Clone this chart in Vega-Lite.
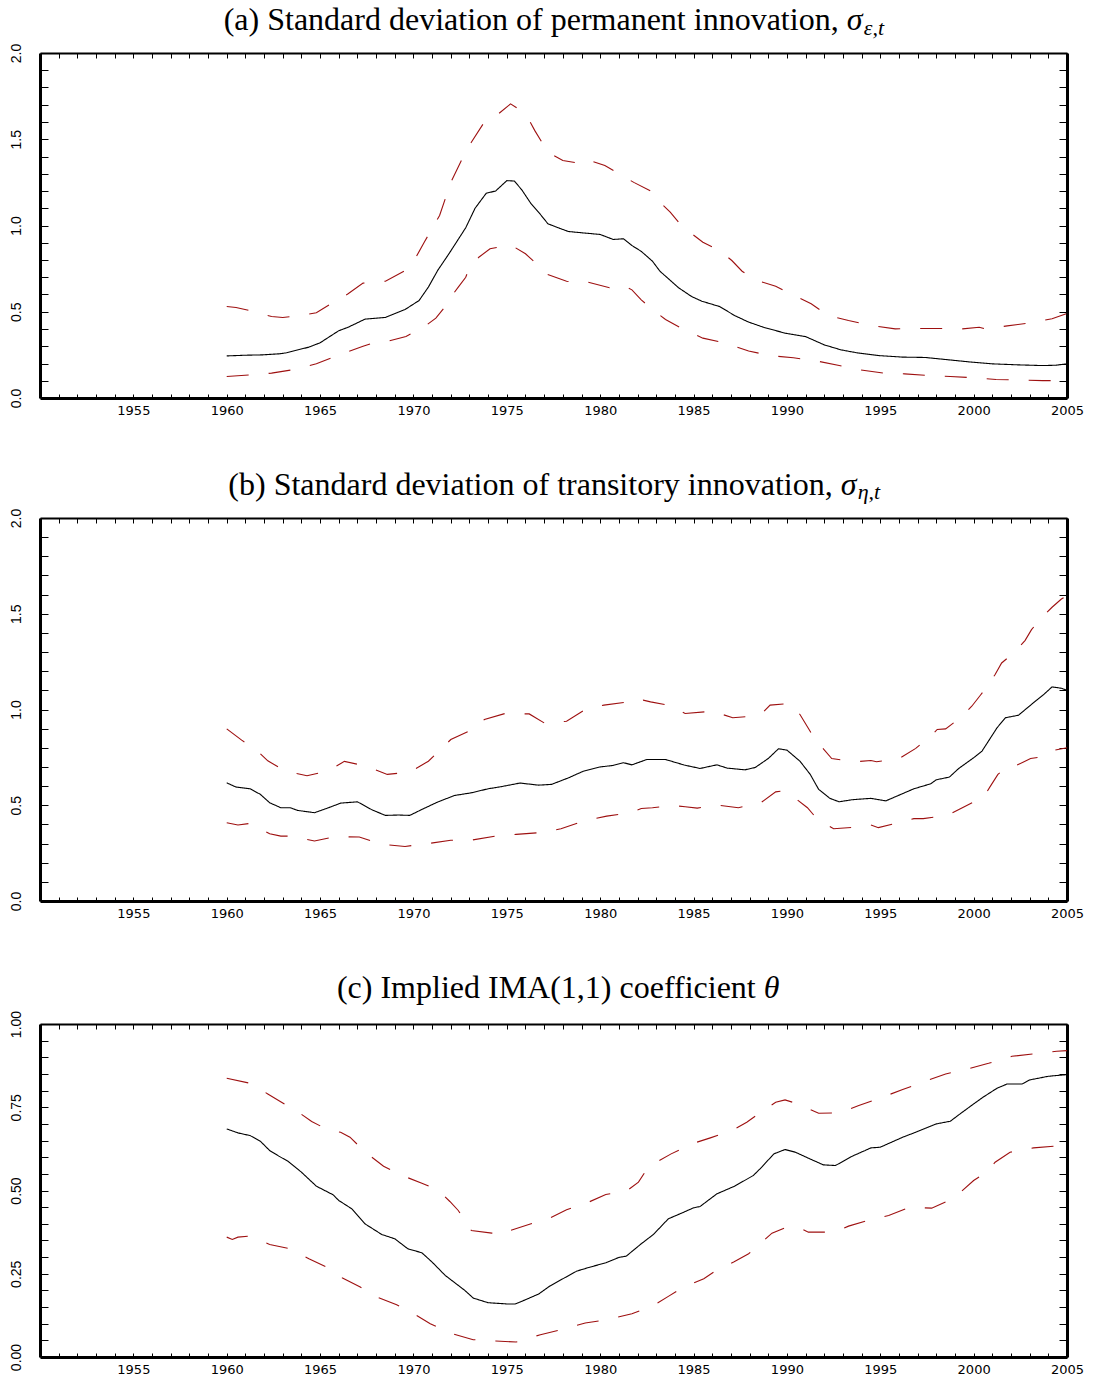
{
  "$schema": "https://vega.github.io/schema/vega-lite/v6.json",
  "background": "white",
  "padding": {"left": 8, "top": 4, "right": 0, "bottom": 0},
  "spacing": 52,
  "config": {
    "view": {"stroke": null},
    "axis": {"grid": false, "domainColor": "black", "tickColor": "black", "labelColor": "black", "title": null, "tickWidth": 1}
  },
  "datasets": {
    "a": [
      {"year":1960,"series":"est","value":0.244},{"year":1961,"series":"est","value":0.248},{"year":1961.9,"series":"est","value":0.25},{"year":1962.8,"series":"est","value":0.256},{"year":1963.2,"series":"est","value":0.262},{"year":1964.4,"series":"est","value":0.295},{"year":1965,"series":"est","value":0.32},{"year":1966,"series":"est","value":0.39},{"year":1966.5,"series":"est","value":0.41},{"year":1967.4,"series":"est","value":0.457},{"year":1968.5,"series":"est","value":0.467},{"year":1969.55,"series":"est","value":0.513},{"year":1970.3,"series":"est","value":0.565},{"year":1970.8,"series":"est","value":0.643},{"year":1971.3,"series":"est","value":0.74},{"year":1971.9,"series":"est","value":0.836},{"year":1972.8,"series":"est","value":0.987},{"year":1973.3,"series":"est","value":1.1},{"year":1973.9,"series":"est","value":1.187},{"year":1974.4,"series":"est","value":1.2},{"year":1975,"series":"est","value":1.26},{"year":1975.4,"series":"est","value":1.258},{"year":1975.8,"series":"est","value":1.207},{"year":1976.3,"series":"est","value":1.126},{"year":1976.8,"series":"est","value":1.064},{"year":1977.2,"series":"est","value":1.01},{"year":1977.8,"series":"est","value":0.985},{"year":1978.3,"series":"est","value":0.965},{"year":1979.2,"series":"est","value":0.956},{"year":1980,"series":"est","value":0.948},{"year":1980.7,"series":"est","value":0.919},{"year":1981.25,"series":"est","value":0.923},{"year":1981.7,"series":"est","value":0.884},{"year":1982.2,"series":"est","value":0.85},{"year":1982.8,"series":"est","value":0.793},{"year":1983.2,"series":"est","value":0.735},{"year":1984.2,"series":"est","value":0.639},{"year":1984.9,"series":"est","value":0.588},{"year":1985.45,"series":"est","value":0.561},{"year":1986.4,"series":"est","value":0.53},{"year":1987.2,"series":"est","value":0.478},{"year":1987.95,"series":"est","value":0.44},{"year":1988.75,"series":"est","value":0.41},{"year":1989.9,"series":"est","value":0.376},{"year":1991,"series":"est","value":0.356},{"year":1992,"series":"est","value":0.308},{"year":1992.9,"series":"est","value":0.279},{"year":1993.75,"series":"est","value":0.262},{"year":1994.9,"series":"est","value":0.246},{"year":1996.2,"series":"est","value":0.237},{"year":1997.4,"series":"est","value":0.235},{"year":1998.7,"series":"est","value":0.221},{"year":1999.9,"series":"est","value":0.208},{"year":2001,"series":"est","value":0.198},{"year":2002.4,"series":"est","value":0.192},{"year":2003.7,"series":"est","value":0.188},{"year":2004.4,"series":"est","value":0.19},{"year":2005,"series":"est","value":0.198},
      {"year":1960,"series":"upper","value":0.53},{"year":1960.5,"series":"upper","value":0.525},{"year":1961.25,"series":"upper","value":0.507},{"year":1962.4,"series":"upper","value":0.472},{"year":1963,"series":"upper","value":0.467},{"year":1963.7,"series":"upper","value":0.474},{"year":1964.8,"series":"upper","value":0.494},{"year":1965.7,"series":"upper","value":0.554},{"year":1966.5,"series":"upper","value":0.604},{"year":1967.3,"series":"upper","value":0.666},{"year":1968.5,"series":"upper","value":0.677},{"year":1969.5,"series":"upper","value":0.735},{"year":1970,"series":"upper","value":0.79},{"year":1970.6,"series":"upper","value":0.907},{"year":1971.4,"series":"upper","value":1.058},{"year":1972,"series":"upper","value":1.25},{"year":1972.8,"series":"upper","value":1.43},{"year":1973.1,"series":"upper","value":1.483},{"year":1973.8,"series":"upper","value":1.6},{"year":1974.55,"series":"upper","value":1.647},{"year":1975.2,"series":"upper","value":1.705},{"year":1975.7,"series":"upper","value":1.67},{"year":1976.25,"series":"upper","value":1.6},{"year":1976.5,"series":"upper","value":1.55},{"year":1977.2,"series":"upper","value":1.425},{"year":1978,"series":"upper","value":1.377},{"year":1978.75,"series":"upper","value":1.363},{"year":1979.2,"series":"upper","value":1.386},{"year":1980.25,"series":"upper","value":1.348},{"year":1981,"series":"upper","value":1.3},{"year":1981.8,"series":"upper","value":1.25},{"year":1982.7,"series":"upper","value":1.2},{"year":1983.1,"series":"upper","value":1.145},{"year":1983.75,"series":"upper","value":1.077},{"year":1984.2,"series":"upper","value":1.019},{"year":1984.8,"series":"upper","value":0.961},{"year":1985.5,"series":"upper","value":0.903},{"year":1986.4,"series":"upper","value":0.855},{"year":1987.05,"series":"upper","value":0.797},{"year":1987.6,"series":"upper","value":0.735},{"year":1988.4,"series":"upper","value":0.681},{"year":1989.4,"series":"upper","value":0.648},{"year":1990.5,"series":"upper","value":0.588},{"year":1991.3,"series":"upper","value":0.546},{"year":1992.2,"series":"upper","value":0.478},{"year":1993.3,"series":"upper","value":0.449},{"year":1994.55,"series":"upper","value":0.42},{"year":1995.8,"series":"upper","value":0.401},{"year":1997.05,"series":"upper","value":0.403},{"year":1998.1,"series":"upper","value":0.403},{"year":1999.4,"series":"upper","value":0.401},{"year":2000.3,"series":"upper","value":0.41},{"year":2000.6,"series":"upper","value":0.401},{"year":2001.8,"series":"upper","value":0.418},{"year":2002.9,"series":"upper","value":0.434},{"year":2004.2,"series":"upper","value":0.459},{"year":2005,"series":"upper","value":0.49},
      {"year":1960,"series":"lower","value":0.125},{"year":1961.25,"series":"lower","value":0.134},{"year":1962.4,"series":"lower","value":0.144},{"year":1963.7,"series":"lower","value":0.167},{"year":1964.8,"series":"lower","value":0.198},{"year":1966,"series":"lower","value":0.25},{"year":1967.3,"series":"lower","value":0.3},{"year":1967.8,"series":"lower","value":0.318},{"year":1968.4,"series":"lower","value":0.322},{"year":1969.6,"series":"lower","value":0.357},{"year":1970.5,"series":"lower","value":0.407},{"year":1971.2,"series":"lower","value":0.463},{"year":1971.6,"series":"lower","value":0.517},{"year":1972,"series":"lower","value":0.585},{"year":1972.4,"series":"lower","value":0.643},{"year":1972.8,"series":"lower","value":0.7},{"year":1973,"series":"lower","value":0.758},{"year":1973.5,"series":"lower","value":0.816},{"year":1974.1,"series":"lower","value":0.865},{"year":1975.2,"series":"lower","value":0.888},{"year":1976,"series":"lower","value":0.836},{"year":1976.7,"series":"lower","value":0.768},{"year":1977.1,"series":"lower","value":0.72},{"year":1978.2,"series":"lower","value":0.677},{"year":1978.8,"series":"lower","value":0.668},{"year":1979.3,"series":"lower","value":0.673},{"year":1980.5,"series":"lower","value":0.639},{"year":1981.25,"series":"lower","value":0.652},{"year":1981.7,"series":"lower","value":0.627},{"year":1982.2,"series":"lower","value":0.569},{"year":1982.8,"series":"lower","value":0.513},{"year":1983.5,"series":"lower","value":0.455},{"year":1984.4,"series":"lower","value":0.401},{"year":1985.5,"series":"lower","value":0.347},{"year":1986.7,"series":"lower","value":0.318},{"year":1987.95,"series":"lower","value":0.272},{"year":1989.1,"series":"lower","value":0.246},{"year":1990.35,"series":"lower","value":0.233},{"year":1991.5,"series":"lower","value":0.217},{"year":1992.8,"series":"lower","value":0.188},{"year":1993.9,"series":"lower","value":0.163},{"year":1995.2,"series":"lower","value":0.144},{"year":1996.3,"series":"lower","value":0.14},{"year":1997.6,"series":"lower","value":0.13},{"year":1998.75,"series":"lower","value":0.125},{"year":2000,"series":"lower","value":0.117},{"year":2001.2,"series":"lower","value":0.107},{"year":2002.4,"series":"lower","value":0.105},{"year":2003.7,"series":"lower","value":0.101},{"year":2005,"series":"lower","value":0.1}
    ],
    "b": [
      {"year":1960,"series":"est","value":0.617},{"year":1960.5,"series":"est","value":0.595},{"year":1961.25,"series":"est","value":0.586},{"year":1961.8,"series":"est","value":0.557},{"year":1962.3,"series":"est","value":0.513},{"year":1962.9,"series":"est","value":0.487},{"year":1963.4,"series":"est","value":0.487},{"year":1963.8,"series":"est","value":0.473},{"year":1964.7,"series":"est","value":0.461},{"year":1965.45,"series":"est","value":0.487},{"year":1966.1,"series":"est","value":0.511},{"year":1967,"series":"est","value":0.518},{"year":1967.8,"series":"est","value":0.475},{"year":1968.5,"series":"est","value":0.447},{"year":1969.2,"series":"est","value":0.449},{"year":1969.8,"series":"est","value":0.447},{"year":1970.45,"series":"est","value":0.478},{"year":1971.3,"series":"est","value":0.517},{"year":1972.2,"series":"est","value":0.551},{"year":1973.1,"series":"est","value":0.565},{"year":1974,"series":"est","value":0.586},{"year":1974.7,"series":"est","value":0.597},{"year":1975.7,"series":"est","value":0.616},{"year":1976.7,"series":"est","value":0.605},{"year":1977.4,"series":"est","value":0.609},{"year":1978.3,"series":"est","value":0.643},{"year":1979.1,"series":"est","value":0.678},{"year":1980,"series":"est","value":0.7},{"year":1980.7,"series":"est","value":0.708},{"year":1981.25,"series":"est","value":0.722},{"year":1981.7,"series":"est","value":0.711},{"year":1982.5,"series":"est","value":0.739},{"year":1983.5,"series":"est","value":0.739},{"year":1984.5,"series":"est","value":0.71},{"year":1985.35,"series":"est","value":0.692},{"year":1986.25,"series":"est","value":0.711},{"year":1986.8,"series":"est","value":0.694},{"year":1987.75,"series":"est","value":0.685},{"year":1988.3,"series":"est","value":0.697},{"year":1989,"series":"est","value":0.744},{"year":1989.55,"series":"est","value":0.795},{"year":1990,"series":"est","value":0.788},{"year":1990.7,"series":"est","value":0.73},{"year":1991.25,"series":"est","value":0.661},{"year":1991.7,"series":"est","value":0.583},{"year":1992.3,"series":"est","value":0.536},{"year":1992.8,"series":"est","value":0.518},{"year":1993.5,"series":"est","value":0.529},{"year":1994.5,"series":"est","value":0.536},{"year":1995.3,"series":"est","value":0.523},{"year":1996.3,"series":"est","value":0.565},{"year":1996.8,"series":"est","value":0.586},{"year":1997.7,"series":"est","value":0.612},{"year":1998,"series":"est","value":0.633},{"year":1998.7,"series":"est","value":0.647},{"year":1999.2,"series":"est","value":0.692},{"year":2000,"series":"est","value":0.748},{"year":2000.45,"series":"est","value":0.783},{"year":2001.25,"series":"est","value":0.904},{"year":2001.7,"series":"est","value":0.957},{"year":2002.4,"series":"est","value":0.97},{"year":2003.3,"series":"est","value":1.043},{"year":2003.75,"series":"est","value":1.078},{"year":2004.2,"series":"est","value":1.118},{"year":2004.7,"series":"est","value":1.111},{"year":2005,"series":"est","value":1.1},
      {"year":1960,"series":"upper","value":0.899},{"year":1960.8,"series":"upper","value":0.84},{"year":1961.6,"series":"upper","value":0.788},{"year":1962.2,"series":"upper","value":0.732},{"year":1963.1,"series":"upper","value":0.68},{"year":1964.3,"series":"upper","value":0.654},{"year":1965.45,"series":"upper","value":0.68},{"year":1966.3,"series":"upper","value":0.729},{"year":1967.4,"series":"upper","value":0.706},{"year":1968.6,"series":"upper","value":0.661},{"year":1969.8,"series":"upper","value":0.673},{"year":1970.8,"series":"upper","value":0.73},{"year":1971.4,"series":"upper","value":0.786},{"year":1972,"series":"upper","value":0.843},{"year":1973.1,"series":"upper","value":0.892},{"year":1973.8,"series":"upper","value":0.948},{"year":1974.9,"series":"upper","value":0.979},{"year":1976.2,"series":"upper","value":0.977},{"year":1977.05,"series":"upper","value":0.927},{"year":1978.2,"series":"upper","value":0.939},{"year":1979.2,"series":"upper","value":1.0},{"year":1980.2,"series":"upper","value":1.023},{"year":1981.4,"series":"upper","value":1.038},{"year":1981.8,"series":"upper","value":1.031},{"year":1982.3,"series":"upper","value":1.049},{"year":1982.7,"series":"upper","value":1.04},{"year":1983.75,"series":"upper","value":1.021},{"year":1984.55,"series":"upper","value":0.979},{"year":1986,"series":"upper","value":0.991},{"year":1987.1,"series":"upper","value":0.957},{"year":1988.2,"series":"upper","value":0.965},{"year":1988.75,"series":"upper","value":0.988},{"year":1989.1,"series":"upper","value":1.023},{"year":1990.1,"series":"upper","value":1.031},{"year":1990.7,"series":"upper","value":0.974},{"year":1991.4,"series":"upper","value":0.861},{"year":1991.9,"series":"upper","value":0.8},{"year":1992.4,"series":"upper","value":0.744},{"year":1993.65,"series":"upper","value":0.727},{"year":1994.5,"series":"upper","value":0.734},{"year":1994.8,"series":"upper","value":0.727},{"year":1996,"series":"upper","value":0.743},{"year":1996.9,"series":"upper","value":0.797},{"year":1997.7,"series":"upper","value":0.861},{"year":1998.05,"series":"upper","value":0.896},{"year":1998.5,"series":"upper","value":0.899},{"year":1999.3,"series":"upper","value":0.957},{"year":1999.9,"series":"upper","value":1.017},{"year":2000.35,"series":"upper","value":1.073},{"year":2000.8,"series":"upper","value":1.13},{"year":2001.15,"series":"upper","value":1.183},{"year":2001.5,"series":"upper","value":1.243},{"year":2002.2,"series":"upper","value":1.3},{"year":2002.75,"series":"upper","value":1.36},{"year":2003.1,"series":"upper","value":1.417},{"year":2003.55,"series":"upper","value":1.47},{"year":2004.2,"series":"upper","value":1.534},{"year":2004.7,"series":"upper","value":1.577},{"year":2005,"series":"upper","value":1.595},
      {"year":1960,"series":"lower","value":0.409},{"year":1960.6,"series":"lower","value":0.397},{"year":1961.25,"series":"lower","value":0.405},{"year":1962.3,"series":"lower","value":0.351},{"year":1962.9,"series":"lower","value":0.339},{"year":1963.5,"series":"lower","value":0.339},{"year":1964.7,"series":"lower","value":0.313},{"year":1965.8,"series":"lower","value":0.336},{"year":1967.1,"series":"lower","value":0.334},{"year":1968.3,"series":"lower","value":0.296},{"year":1969.55,"series":"lower","value":0.285},{"year":1970.7,"series":"lower","value":0.299},{"year":1972,"series":"lower","value":0.317},{"year":1973.1,"series":"lower","value":0.318},{"year":1974.4,"series":"lower","value":0.339},{"year":1975.5,"series":"lower","value":0.348},{"year":1976.8,"series":"lower","value":0.357},{"year":1977.9,"series":"lower","value":0.377},{"year":1979.2,"series":"lower","value":0.421},{"year":1980.35,"series":"lower","value":0.443},{"year":1981.6,"series":"lower","value":0.461},{"year":1982.2,"series":"lower","value":0.483},{"year":1982.8,"series":"lower","value":0.487},{"year":1983.9,"series":"lower","value":0.499},{"year":1984.55,"series":"lower","value":0.492},{"year":1985.2,"series":"lower","value":0.485},{"year":1986.25,"series":"lower","value":0.501},{"year":1987.4,"series":"lower","value":0.487},{"year":1988.6,"series":"lower","value":0.513},{"year":1989.4,"series":"lower","value":0.57},{"year":1989.8,"series":"lower","value":0.575},{"year":1990.3,"series":"lower","value":0.548},{"year":1991.1,"series":"lower","value":0.487},{"year":1991.6,"series":"lower","value":0.43},{"year":1992.5,"series":"lower","value":0.377},{"year":1993.75,"series":"lower","value":0.386},{"year":1994.5,"series":"lower","value":0.397},{"year":1994.9,"series":"lower","value":0.383},{"year":1996.2,"series":"lower","value":0.414},{"year":1996.8,"series":"lower","value":0.43},{"year":1997.3,"series":"lower","value":0.43},{"year":1998.6,"series":"lower","value":0.447},{"year":1999.5,"series":"lower","value":0.492},{"year":2000.55,"series":"lower","value":0.544},{"year":2000.9,"series":"lower","value":0.6},{"year":2001.3,"series":"lower","value":0.661},{"year":2001.8,"series":"lower","value":0.701},{"year":2002.15,"series":"lower","value":0.701},{"year":2003.05,"series":"lower","value":0.744},{"year":2003.5,"series":"lower","value":0.751},{"year":2003.8,"series":"lower","value":0.777},{"year":2005,"series":"lower","value":0.8}
    ],
    "c": [
      {"year":1960,"series":"est","value":0.685},{"year":1960.6,"series":"est","value":0.673},{"year":1961.25,"series":"est","value":0.665},{"year":1961.8,"series":"est","value":0.648},{"year":1962.3,"series":"est","value":0.62},{"year":1962.8,"series":"est","value":0.603},{"year":1963.3,"series":"est","value":0.587},{"year":1964,"series":"est","value":0.555},{"year":1964.8,"series":"est","value":0.513},{"year":1965.7,"series":"est","value":0.487},{"year":1966,"series":"est","value":0.47},{"year":1966.7,"series":"est","value":0.445},{"year":1967.4,"series":"est","value":0.4},{"year":1968.3,"series":"est","value":0.368},{"year":1969,"series":"est","value":0.355},{"year":1969.7,"series":"est","value":0.325},{"year":1970.45,"series":"est","value":0.313},{"year":1971,"series":"est","value":0.285},{"year":1971.7,"series":"est","value":0.245},{"year":1972.75,"series":"est","value":0.2},{"year":1973.2,"series":"est","value":0.177},{"year":1974,"series":"est","value":0.163},{"year":1975.1,"series":"est","value":0.159},{"year":1975.45,"series":"est","value":0.159},{"year":1976,"series":"est","value":0.172},{"year":1976.7,"series":"est","value":0.189},{"year":1977.3,"series":"est","value":0.213},{"year":1978.1,"series":"est","value":0.238},{"year":1978.75,"series":"est","value":0.258},{"year":1979.4,"series":"est","value":0.269},{"year":1980.3,"series":"est","value":0.283},{"year":1981,"series":"est","value":0.299},{"year":1981.4,"series":"est","value":0.303},{"year":1982.2,"series":"est","value":0.34},{"year":1982.85,"series":"est","value":0.368},{"year":1983.65,"series":"est","value":0.415},{"year":1984.4,"series":"est","value":0.433},{"year":1985,"series":"est","value":0.448},{"year":1985.35,"series":"est","value":0.452},{"year":1986.25,"series":"est","value":0.49},{"year":1987.2,"series":"est","value":0.513},{"year":1988.2,"series":"est","value":0.545},{"year":1988.65,"series":"est","value":0.57},{"year":1989.3,"series":"est","value":0.61},{"year":1989.9,"series":"est","value":0.623},{"year":1990.45,"series":"est","value":0.615},{"year":1991.15,"series":"est","value":0.597},{"year":1991.95,"series":"est","value":0.577},{"year":1992.6,"series":"est","value":0.575},{"year":1993.5,"series":"est","value":0.603},{"year":1994.5,"series":"est","value":0.628},{"year":1995,"series":"est","value":0.63},{"year":1996.2,"series":"est","value":0.66},{"year":1996.9,"series":"est","value":0.675},{"year":1998,"series":"est","value":0.7},{"year":1998.75,"series":"est","value":0.708},{"year":1999.2,"series":"est","value":0.727},{"year":2000,"series":"est","value":0.76},{"year":2000.5,"series":"est","value":0.78},{"year":2001.25,"series":"est","value":0.807},{"year":2001.8,"series":"est","value":0.82},{"year":2002.6,"series":"est","value":0.82},{"year":2003,"series":"est","value":0.832},{"year":2004,"series":"est","value":0.843},{"year":2005,"series":"est","value":0.848},
      {"year":1960,"series":"upper","value":0.837},{"year":1961.25,"series":"upper","value":0.822},{"year":1962.2,"series":"upper","value":0.79},{"year":1963,"series":"upper","value":0.763},{"year":1963.85,"series":"upper","value":0.735},{"year":1964.55,"series":"upper","value":0.707},{"year":1965.5,"series":"upper","value":0.68},{"year":1966.1,"series":"upper","value":0.675},{"year":1966.6,"series":"upper","value":0.66},{"year":1967.15,"series":"upper","value":0.63},{"year":1967.7,"series":"upper","value":0.603},{"year":1968.4,"series":"upper","value":0.573},{"year":1969.3,"series":"upper","value":0.547},{"year":1970.45,"series":"upper","value":0.522},{"year":1971.35,"series":"upper","value":0.5},{"year":1971.95,"series":"upper","value":0.467},{"year":1972.4,"series":"upper","value":0.44},{"year":1973.1,"series":"upper","value":0.38},{"year":1974.2,"series":"upper","value":0.372},{"year":1975,"series":"upper","value":0.37},{"year":1975.2,"series":"upper","value":0.38},{"year":1976.3,"series":"upper","value":0.4},{"year":1977.3,"series":"upper","value":0.417},{"year":1978.2,"series":"upper","value":0.442},{"year":1979.3,"series":"upper","value":0.463},{"year":1980.3,"series":"upper","value":0.488},{"year":1981.4,"series":"upper","value":0.498},{"year":1982.05,"series":"upper","value":0.525},{"year":1982.4,"series":"upper","value":0.555},{"year":1983,"series":"upper","value":0.585},{"year":1983.8,"series":"upper","value":0.61},{"year":1984.9,"series":"upper","value":0.64},{"year":1985.9,"series":"upper","value":0.658},{"year":1987.05,"series":"upper","value":0.68},{"year":1987.85,"series":"upper","value":0.705},{"year":1988.65,"series":"upper","value":0.737},{"year":1989.4,"series":"upper","value":0.765},{"year":1989.9,"series":"upper","value":0.772},{"year":1990.6,"series":"upper","value":0.76},{"year":1991.7,"series":"upper","value":0.732},{"year":1992.85,"series":"upper","value":0.733},{"year":1993.85,"series":"upper","value":0.755},{"year":1995.1,"series":"upper","value":0.78},{"year":1996.2,"series":"upper","value":0.803},{"year":1997.4,"series":"upper","value":0.828},{"year":1998.5,"series":"upper","value":0.85},{"year":1999.7,"series":"upper","value":0.865},{"year":2000.8,"series":"upper","value":0.882},{"year":2002.05,"series":"upper","value":0.903},{"year":2003.2,"series":"upper","value":0.91},{"year":2004.45,"series":"upper","value":0.918},{"year":2005,"series":"upper","value":0.92},
      {"year":1960,"series":"lower","value":0.36},{"year":1960.3,"series":"lower","value":0.353},{"year":1960.6,"series":"lower","value":0.36},{"year":1961.25,"series":"lower","value":0.363},{"year":1962.3,"series":"lower","value":0.338},{"year":1963.4,"series":"lower","value":0.325},{"year":1964.4,"series":"lower","value":0.295},{"year":1965.45,"series":"lower","value":0.267},{"year":1966.2,"series":"lower","value":0.237},{"year":1967.15,"series":"lower","value":0.21},{"year":1967.95,"series":"lower","value":0.182},{"year":1969.1,"series":"lower","value":0.157},{"year":1970.1,"series":"lower","value":0.127},{"year":1970.9,"series":"lower","value":0.1},{"year":1971.95,"series":"lower","value":0.072},{"year":1973.2,"series":"lower","value":0.052},{"year":1974.4,"series":"lower","value":0.048},{"year":1975.5,"series":"lower","value":0.045},{"year":1976.8,"series":"lower","value":0.067},{"year":1977.9,"series":"lower","value":0.082},{"year":1979.2,"series":"lower","value":0.102},{"year":1980.35,"series":"lower","value":0.112},{"year":1981.7,"series":"lower","value":0.13},{"year":1982.4,"series":"lower","value":0.145},{"year":1982.8,"series":"lower","value":0.153},{"year":1983.65,"series":"lower","value":0.182},{"year":1984.45,"series":"lower","value":0.21},{"year":1985.55,"series":"lower","value":0.235},{"year":1986.35,"series":"lower","value":0.265},{"year":1987.15,"series":"lower","value":0.285},{"year":1987.95,"series":"lower","value":0.31},{"year":1988.6,"series":"lower","value":0.342},{"year":1989.2,"series":"lower","value":0.372},{"year":1990,"series":"lower","value":0.39},{"year":1990.7,"series":"lower","value":0.387},{"year":1991.15,"series":"lower","value":0.375},{"year":1992.2,"series":"lower","value":0.375},{"year":1992.8,"series":"lower","value":0.38},{"year":1993.3,"series":"lower","value":0.393},{"year":1994.5,"series":"lower","value":0.413},{"year":1995.45,"series":"lower","value":0.425},{"year":1996.6,"series":"lower","value":0.45},{"year":1997.75,"series":"lower","value":0.447},{"year":1998.75,"series":"lower","value":0.472},{"year":1999.3,"series":"lower","value":0.495},{"year":2000,"series":"lower","value":0.53},{"year":2000.7,"series":"lower","value":0.555},{"year":2001.15,"series":"lower","value":0.585},{"year":2001.95,"series":"lower","value":0.615},{"year":2003.2,"series":"lower","value":0.628},{"year":2004.3,"series":"lower","value":0.633},{"year":2005,"series":"lower","value":0.635}
    ]
  },
  "vconcat": [
    {
      "width": 1027, "height": 345,
      "data": {"name": "a"},
      "layer": [
        {
          "mark": {"type": "line", "strokeWidth": 1.1},
          "encoding": {
            "x": {"field": "year", "type": "quantitative", "scale": {"domain": [1950, 2005], "nice": false, "zero": false},
              "axis": {"orient": "bottom", "values": [1951,1952,1953,1954,1955,1956,1957,1958,1959,1960,1961,1962,1963,1964,1965,1966,1967,1968,1969,1970,1971,1972,1973,1974,1975,1976,1977,1978,1979,1980,1981,1982,1983,1984,1985,1986,1987,1988,1989,1990,1991,1992,1993,1994,1995,1996,1997,1998,1999,2000,2001,2002,2003,2004,2005], "format": "d", "labelExpr": "datum.value % 5 == 0 ? datum.label : ''", "tickSize": -4, "domainWidth": 3, "labelFont": "DejaVu Sans", "labelFontSize": 13, "labelPadding": 10, "labelOverlap": false, "labelFlush": false}},
            "y": {"field": "value", "type": "quantitative", "scale": {"domain": [0, 2], "nice": false},
              "axis": {"orient": "left", "values": [0,0.1,0.2,0.3,0.4,0.5,0.6,0.7,0.8,0.9,1,1.1,1.2,1.3,1.4,1.5,1.6,1.7,1.8,1.9,2], "labelExpr": "round(datum.value*10) % 5 == 0 ? format(datum.value, '.1f') : ''", "tickSize": -8, "domainWidth": 3, "labelAngle": 270, "labelAlign": "center", "labelBaseline": "bottom", "labelFont": "Liberation Sans Narrow, Liberation Sans", "labelFontSize": 14, "labelPadding": 25, "labelOverlap": false, "labelFlush": false}},
            "color": {"field": "series", "type": "nominal", "scale": {"domain": ["est","lower","upper"], "range": ["#000000","#9e1010","#9e1010"]}, "legend": null},
            "strokeDash": {"field": "series", "type": "nominal", "scale": {"domain": ["est","lower","upper"], "range": [[1,0],[22,20],[22,20]]}, "legend": null}
          }
        },
        {
          "data": {"values": [{}]},
          "mark": {"type": "point", "opacity": 0},
          "encoding": {
            "x": {"datum": 1960, "type": "quantitative", "scale": {"domain": [1950, 2005], "nice": false, "zero": false},
              "axis": {"orient": "top", "values": [1951,1952,1953,1954,1955,1956,1957,1958,1959,1960,1961,1962,1963,1964,1965,1966,1967,1968,1969,1970,1971,1972,1973,1974,1975,1976,1977,1978,1979,1980,1981,1982,1983,1984,1985,1986,1987,1988,1989,1990,1991,1992,1993,1994,1995,1996,1997,1998,1999,2000,2001,2002,2003,2004,2005], "labels": false, "tickSize": -5, "domainWidth": 2}},
            "y": {"datum": 0, "type": "quantitative", "scale": {"domain": [0, 2], "nice": false},
              "axis": {"orient": "right", "values": [0,0.1,0.2,0.3,0.4,0.5,0.6,0.7,0.8,0.9,1,1.1,1.2,1.3,1.4,1.5,1.6,1.7,1.8,1.9,2], "labels": false, "tickSize": -8, "domainWidth": 3}}
          }
        },
        {
          "data": {"values": [{}]},
          "mark": {"type": "text", "font": "Liberation Serif", "fontSize": 32, "align": "right", "baseline": "alphabetic", "color": "black"},
          "encoding": {
            "x": {"datum": 1992.77, "type": "quantitative", "scale": {"domain": [1950, 2005], "nice": false, "zero": false}, "axis": null},
            "y": {"datum": 2.133, "type": "quantitative", "scale": {"domain": [0, 2], "nice": false}, "axis": null},
            "text": {"value": "(a) Standard deviation of permanent innovation,"}
          }
        },
        {
          "data": {"values": [{}]},
          "mark": {"type": "text", "font": "Liberation Serif", "fontSize": 32, "fontStyle": "italic", "align": "left", "baseline": "alphabetic", "color": "black"},
          "encoding": {
            "x": {"datum": 1993.2, "type": "quantitative", "scale": {"domain": [1950, 2005], "nice": false, "zero": false}, "axis": null},
            "y": {"datum": 2.133, "type": "quantitative", "scale": {"domain": [0, 2], "nice": false}, "axis": null},
            "text": {"value": "σ"}
          }
        },
        {
          "data": {"values": [{}]},
          "mark": {"type": "text", "font": "Liberation Serif", "fontSize": 22, "fontStyle": "italic", "align": "left", "baseline": "alphabetic", "color": "black"},
          "encoding": {
            "x": {"datum": 1994.12, "type": "quantitative", "scale": {"domain": [1950, 2005], "nice": false, "zero": false}, "axis": null},
            "y": {"datum": 2.104, "type": "quantitative", "scale": {"domain": [0, 2], "nice": false}, "axis": null},
            "text": {"value": "ε,t"}
          }
        }
      ],
      "resolve": {"axis": {"x": "independent", "y": "independent"}}
    },
    {
      "width": 1027, "height": 383,
      "data": {"name": "b"},
      "layer": [
        {
          "mark": {"type": "line", "strokeWidth": 1.1},
          "encoding": {
            "x": {"field": "year", "type": "quantitative", "scale": {"domain": [1950, 2005], "nice": false, "zero": false},
              "axis": {"orient": "bottom", "values": [1951,1952,1953,1954,1955,1956,1957,1958,1959,1960,1961,1962,1963,1964,1965,1966,1967,1968,1969,1970,1971,1972,1973,1974,1975,1976,1977,1978,1979,1980,1981,1982,1983,1984,1985,1986,1987,1988,1989,1990,1991,1992,1993,1994,1995,1996,1997,1998,1999,2000,2001,2002,2003,2004,2005], "format": "d", "labelExpr": "datum.value % 5 == 0 ? datum.label : ''", "tickSize": -4, "domainWidth": 3, "labelFont": "DejaVu Sans", "labelFontSize": 13, "labelPadding": 10, "labelOverlap": false, "labelFlush": false}},
            "y": {"field": "value", "type": "quantitative", "scale": {"domain": [0, 2], "nice": false},
              "axis": {"orient": "left", "values": [0,0.1,0.2,0.3,0.4,0.5,0.6,0.7,0.8,0.9,1,1.1,1.2,1.3,1.4,1.5,1.6,1.7,1.8,1.9,2], "labelExpr": "round(datum.value*10) % 5 == 0 ? format(datum.value, '.1f') : ''", "tickSize": -8, "domainWidth": 3, "labelAngle": 270, "labelAlign": "center", "labelBaseline": "bottom", "labelFont": "Liberation Sans Narrow, Liberation Sans", "labelFontSize": 14, "labelPadding": 25, "labelOverlap": false, "labelFlush": false}},
            "color": {"field": "series", "type": "nominal", "scale": {"domain": ["est","lower","upper"], "range": ["#000000","#9e1010","#9e1010"]}, "legend": null},
            "strokeDash": {"field": "series", "type": "nominal", "scale": {"domain": ["est","lower","upper"], "range": [[1,0],[22,20],[22,20]]}, "legend": null}
          }
        },
        {
          "data": {"values": [{}]},
          "mark": {"type": "point", "opacity": 0},
          "encoding": {
            "x": {"datum": 1960, "type": "quantitative", "scale": {"domain": [1950, 2005], "nice": false, "zero": false},
              "axis": {"orient": "top", "values": [1951,1952,1953,1954,1955,1956,1957,1958,1959,1960,1961,1962,1963,1964,1965,1966,1967,1968,1969,1970,1971,1972,1973,1974,1975,1976,1977,1978,1979,1980,1981,1982,1983,1984,1985,1986,1987,1988,1989,1990,1991,1992,1993,1994,1995,1996,1997,1998,1999,2000,2001,2002,2003,2004,2005], "labels": false, "tickSize": -5, "domainWidth": 2}},
            "y": {"datum": 0, "type": "quantitative", "scale": {"domain": [0, 2], "nice": false},
              "axis": {"orient": "right", "values": [0,0.1,0.2,0.3,0.4,0.5,0.6,0.7,0.8,0.9,1,1.1,1.2,1.3,1.4,1.5,1.6,1.7,1.8,1.9,2], "labels": false, "tickSize": -8, "domainWidth": 3}}
          }
        },
        {
          "data": {"values": [{}]},
          "mark": {"type": "text", "font": "Liberation Serif", "fontSize": 32, "align": "right", "baseline": "alphabetic", "color": "black"},
          "encoding": {
            "x": {"datum": 1992.45, "type": "quantitative", "scale": {"domain": [1950, 2005], "nice": false, "zero": false}, "axis": null},
            "y": {"datum": 2.119, "type": "quantitative", "scale": {"domain": [0, 2], "nice": false}, "axis": null},
            "text": {"value": "(b) Standard deviation of transitory innovation,"}
          }
        },
        {
          "data": {"values": [{}]},
          "mark": {"type": "text", "font": "Liberation Serif", "fontSize": 32, "fontStyle": "italic", "align": "left", "baseline": "alphabetic", "color": "black"},
          "encoding": {
            "x": {"datum": 1992.88, "type": "quantitative", "scale": {"domain": [1950, 2005], "nice": false, "zero": false}, "axis": null},
            "y": {"datum": 2.119, "type": "quantitative", "scale": {"domain": [0, 2], "nice": false}, "axis": null},
            "text": {"value": "σ"}
          }
        },
        {
          "data": {"values": [{}]},
          "mark": {"type": "text", "font": "Liberation Serif", "fontSize": 22, "fontStyle": "italic", "align": "left", "baseline": "alphabetic", "color": "black"},
          "encoding": {
            "x": {"datum": 1993.79, "type": "quantitative", "scale": {"domain": [1950, 2005], "nice": false, "zero": false}, "axis": null},
            "y": {"datum": 2.098, "type": "quantitative", "scale": {"domain": [0, 2], "nice": false}, "axis": null},
            "text": {"value": "η,t"}
          }
        }
      ],
      "resolve": {"axis": {"x": "independent", "y": "independent"}}
    },
    {
      "width": 1027, "height": 333,
      "data": {"name": "c"},
      "layer": [
        {
          "mark": {"type": "line", "strokeWidth": 1.1},
          "encoding": {
            "x": {"field": "year", "type": "quantitative", "scale": {"domain": [1950, 2005], "nice": false, "zero": false},
              "axis": {"orient": "bottom", "values": [1951,1952,1953,1954,1955,1956,1957,1958,1959,1960,1961,1962,1963,1964,1965,1966,1967,1968,1969,1970,1971,1972,1973,1974,1975,1976,1977,1978,1979,1980,1981,1982,1983,1984,1985,1986,1987,1988,1989,1990,1991,1992,1993,1994,1995,1996,1997,1998,1999,2000,2001,2002,2003,2004,2005], "format": "d", "labelExpr": "datum.value % 5 == 0 ? datum.label : ''", "tickSize": -4, "domainWidth": 3, "labelFont": "DejaVu Sans", "labelFontSize": 13, "labelPadding": 10, "labelOverlap": false, "labelFlush": false}},
            "y": {"field": "value", "type": "quantitative", "scale": {"domain": [0, 1], "nice": false},
              "axis": {"orient": "left", "values": [0,0.05,0.1,0.15,0.2,0.25,0.3,0.35,0.4,0.45,0.5,0.55,0.6,0.65,0.7,0.75,0.8,0.85,0.9,0.95,1], "labelExpr": "round(datum.value*20) % 5 == 0 ? format(datum.value, '.2f') : ''", "tickSize": -8, "domainWidth": 3, "labelAngle": 270, "labelAlign": "center", "labelBaseline": "bottom", "labelFont": "Liberation Sans Narrow, Liberation Sans", "labelFontSize": 14, "labelPadding": 25, "labelOverlap": false, "labelFlush": false}},
            "color": {"field": "series", "type": "nominal", "scale": {"domain": ["est","lower","upper"], "range": ["#000000","#9e1010","#9e1010"]}, "legend": null},
            "strokeDash": {"field": "series", "type": "nominal", "scale": {"domain": ["est","lower","upper"], "range": [[1,0],[22,20],[22,20]]}, "legend": null}
          }
        },
        {
          "data": {"values": [{}]},
          "mark": {"type": "point", "opacity": 0},
          "encoding": {
            "x": {"datum": 1960, "type": "quantitative", "scale": {"domain": [1950, 2005], "nice": false, "zero": false},
              "axis": {"orient": "top", "values": [1951,1952,1953,1954,1955,1956,1957,1958,1959,1960,1961,1962,1963,1964,1965,1966,1967,1968,1969,1970,1971,1972,1973,1974,1975,1976,1977,1978,1979,1980,1981,1982,1983,1984,1985,1986,1987,1988,1989,1990,1991,1992,1993,1994,1995,1996,1997,1998,1999,2000,2001,2002,2003,2004,2005], "labels": false, "tickSize": -5, "domainWidth": 2}},
            "y": {"datum": 0, "type": "quantitative", "scale": {"domain": [0, 1], "nice": false},
              "axis": {"orient": "right", "values": [0,0.05,0.1,0.15,0.2,0.25,0.3,0.35,0.4,0.45,0.5,0.55,0.6,0.65,0.7,0.75,0.8,0.85,0.9,0.95,1], "labels": false, "tickSize": -8, "domainWidth": 3}}
          }
        },
        {
          "data": {"values": [{}]},
          "mark": {"type": "text", "font": "Liberation Serif", "fontSize": 32, "align": "right", "baseline": "alphabetic", "color": "black"},
          "encoding": {
            "x": {"datum": 1988.33, "type": "quantitative", "scale": {"domain": [1950, 2005], "nice": false, "zero": false}, "axis": null},
            "y": {"datum": 1.0766, "type": "quantitative", "scale": {"domain": [0, 1], "nice": false}, "axis": null},
            "text": {"value": "(c) Implied IMA(1,1) coefficient"}
          }
        },
        {
          "data": {"values": [{}]},
          "mark": {"type": "text", "font": "Liberation Serif", "fontSize": 32, "fontStyle": "italic", "align": "left", "baseline": "alphabetic", "color": "black"},
          "encoding": {
            "x": {"datum": 1988.76, "type": "quantitative", "scale": {"domain": [1950, 2005], "nice": false, "zero": false}, "axis": null},
            "y": {"datum": 1.0766, "type": "quantitative", "scale": {"domain": [0, 1], "nice": false}, "axis": null},
            "text": {"value": "θ"}
          }
        }
      ],
      "resolve": {"axis": {"x": "independent", "y": "independent"}}
    }
  ]
}
